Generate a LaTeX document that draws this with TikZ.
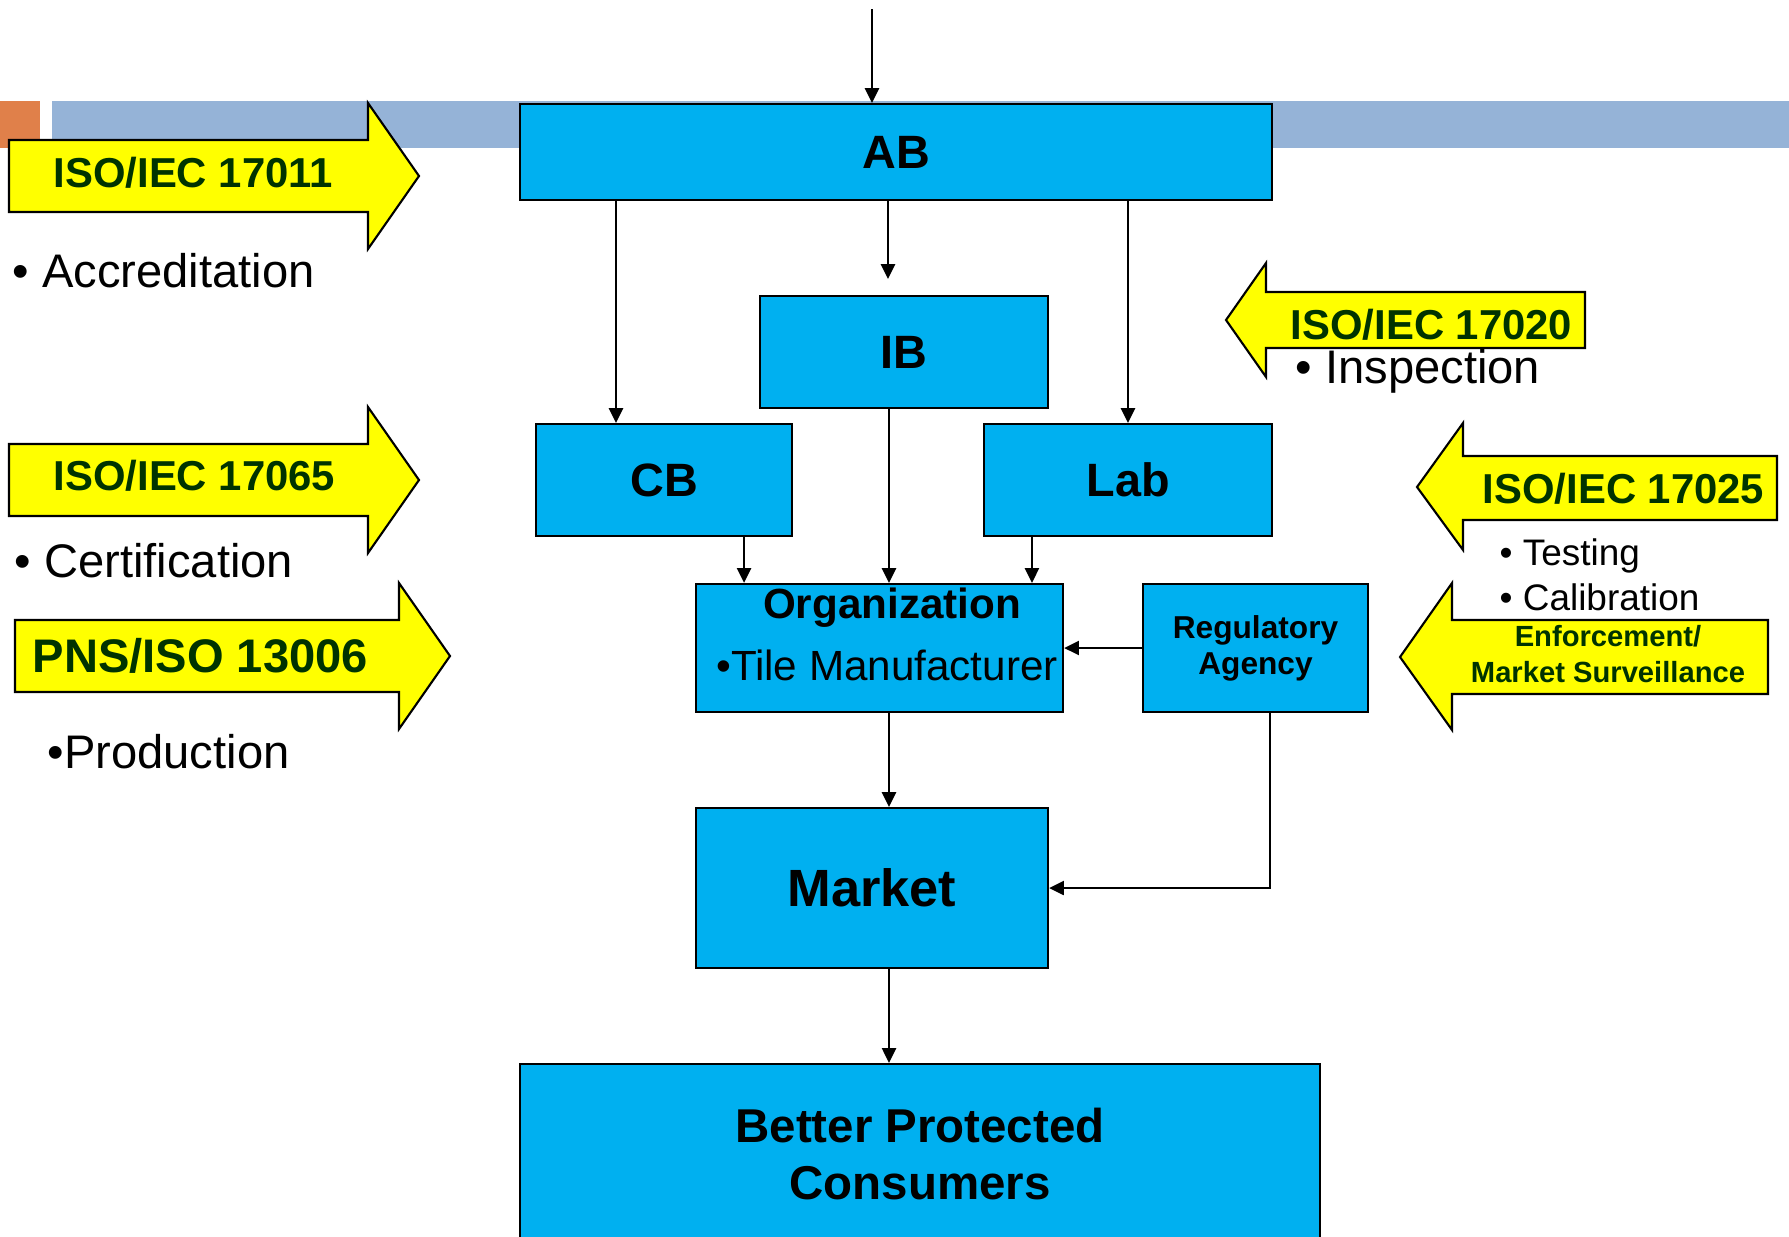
\documentclass[tikz,border=0pt]{standalone}
\usepackage{fontspec}
\setmainfont{Liberation Sans}
\usetikzlibrary{arrows.meta}
\usetikzlibrary{positioning}

\definecolor{boxblue}{HTML}{00B0F0}
\definecolor{stdyellow}{HTML}{FFFF00}
\definecolor{stdgreen}{HTML}{003300}
\definecolor{barblue}{HTML}{95B3D7}
\definecolor{barorange}{HTML}{E0804A}

\tikzset{
  box/.style={draw, fill=boxblue, line width=0.6pt, inner sep=0pt},
  boxfont/.style={font=\bfseries\fontsize{13.3}{16}\selectfont},
  link/.style={->, line width=0.6pt},
  stdarrow/.style={draw, fill=stdyellow, line width=0.6pt},
  stdname/.style={anchor=base west, text=stdgreen, inner sep=0pt, font=\bfseries\fontsize{11.9}{14}\selectfont},
  itemtext/.style={anchor=base west, inner sep=0pt, font=\fontsize{13.4}{16}\selectfont},
  smallitem/.style={anchor=base west, inner sep=0pt, font=\fontsize{10.5}{12.6}\selectfont},
}

\begin{document}
\begin{tikzpicture}[>={Triangle[length=4.2pt,width=4pt]}, x=0.01cm, y=-0.01cm]
\useasboundingbox (0,0) rectangle (1789,1236);

% title bar
\fill[barorange] (0,101) rectangle (40,148);
\fill[barblue] (52,101) rectangle (1789,148);

% standards (left side)
\draw[stdarrow] (9,140) -- (368,140) -- (368,103) -- (419,176) -- (368,249) -- (368,212) -- (9,212) -- cycle;
\draw[stdarrow] (9,444) -- (368,444) -- (368,407) -- (419,480) -- (368,553) -- (368,516) -- (9,516) -- cycle;
\draw[stdarrow] (15,620) -- (399,620) -- (399,583) -- (450,656) -- (399,729) -- (399,692) -- (15,692) -- cycle;

% standards (right side)
\draw[stdarrow] (1585,292) -- (1266,292) -- (1266,263) -- (1226,320) -- (1266,377) -- (1266,348) -- (1585,348) -- cycle;
\draw[stdarrow] (1777,456) -- (1463,456) -- (1463,423) -- (1417,487) -- (1463,550) -- (1463,520) -- (1777,520) -- cycle;
\draw[stdarrow] (1768,620) -- (1452,620) -- (1452,583) -- (1400,657) -- (1452,730) -- (1452,694) -- (1768,694) -- cycle;

\node[stdname] (s17011) at (53,187) {ISO/IEC 17011};
\node[itemtext] (accr) at (12,287) {• Accreditation};
\node[stdname] (s17065) at (53,490) {ISO/IEC 17065};
\node[itemtext] (cert) at (14,577) {• Certification};
\node[stdname, font=\bfseries\fontsize{13.4}{16}\selectfont] (s13006) at (32,672) {PNS/ISO 13006};
\node[itemtext] (prod) at (47,768) {•Production};

\node[stdname] (s17020) at (1290,339) {ISO/IEC 17020};
\node[itemtext] (insp) at (1295,383) {• Inspection};
\node[stdname] (s17025) at (1482,503) {ISO/IEC 17025};
\node[smallitem] (test) at (1499,565) {• Testing};
\node[smallitem] (calib) at (1499,610) {• Calibration};
\node[align=center, text=stdgreen, inner sep=0pt, font=\bfseries\fontsize{8.3}{10}\selectfont] (enf) at (1608,654) {Enforcement/\\Market Surveillance};

% bodies
\node[box, boxfont, minimum width=7.52cm, minimum height=0.96cm] (AB) at (896,152) {AB};
\node[box, boxfont, minimum width=2.88cm, minimum height=1.12cm] (IB) at (904,352) {IB};
\node[box, boxfont, minimum width=2.56cm, minimum height=1.12cm] (CB) at (664,480) {CB};
\node[box, boxfont, minimum width=2.88cm, minimum height=1.12cm] (Lab) at (1128,480) {Lab};
\node[box, minimum width=3.67cm, minimum height=1.28cm] (org) at (879.5,648) {};
\node[anchor=base, inner sep=0pt, font=\bfseries\fontsize{12}{14}\selectfont] (orgname) at (892,618) {Organization};
\node[anchor=base, inner sep=0pt, font=\fontsize{12}{14}\selectfont] (orgitem) at (887,680) {•Tile Manufacturer};
\node[box, align=center, minimum width=2.25cm, minimum height=1.28cm, font=\bfseries\fontsize{9}{10.2}\selectfont] (reg) at (1255.5,648) {Regulatory\\Agency};
\node[box, minimum width=3.52cm, minimum height=1.6cm, font=\bfseries\fontsize{14.9}{18}\selectfont] (market) at (872,888) {Market};
\node[box, align=center, minimum width=8cm, minimum height=1.8cm, font=\bfseries\fontsize{13.5}{16.2}\selectfont] (cons) at (920,1154) {Better Protected\\Consumers};

% links
\coordinate (in) at (872,9);
\draw[link] (in) -- (in |- AB.north);
\draw[link, shorten >=1.6mm] ([xshift=-1.6mm]IB.north |- AB.south) -- ([xshift=-1.6mm]IB.north);
\draw[link] ([xshift=-4.8mm]CB.north |- AB.south) -- ([xshift=-4.8mm]CB.north);
\draw[link] (Lab.north |- AB.south) -- (Lab.north);
\draw[link] ([xshift=8mm]CB.south) -- ([xshift=8mm]CB.south |- org.north);
\draw[link] ([xshift=-1.5mm]IB.south) -- ([xshift=-1.5mm]IB.south |- org.north);
\draw[link] ([xshift=-9.6mm]Lab.south) -- ([xshift=-9.6mm]Lab.south |- org.north);
\draw[link] (reg.west) -- (org.east);
\draw[link] ([xshift=0.95mm]org.south) -- ([xshift=0.95mm]org.south |- market.north);
\draw[link] ([xshift=1.45mm]reg.south) |- (market.east);
\draw[link] ([xshift=1.7mm]market.south) -- ([xshift=1.7mm]market.south |- cons.north);

\end{tikzpicture}
\end{document}
